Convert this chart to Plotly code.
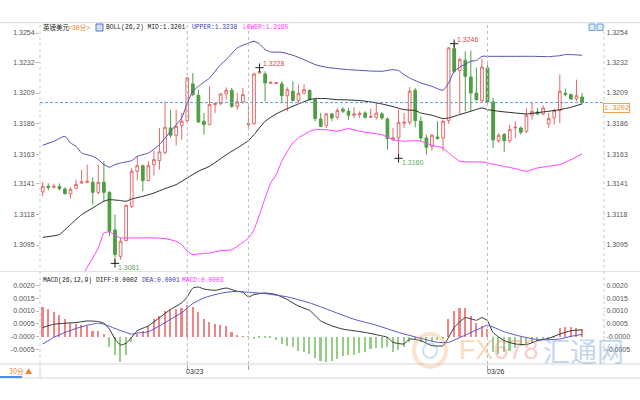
import plotly.graph_objects as go

# ---------------- data ----------------
open_p = [1.31348,1.31390,1.31383,1.31388,1.31370,1.31333,1.31375,1.31415,1.31420,1.31420,
          1.31345,1.31420,1.31345,1.31063,1.30865,1.30983,1.31240,1.31503,1.31545,1.31433,
          1.31553,1.31583,1.31645,1.31828,1.31773,1.31845,1.31883,1.32158,1.32073,1.31878,
          1.31853,1.32003,1.32010,1.32085,1.32110,1.31990,1.32023,1.31853,1.31860,1.32240,
          1.32233,1.32163,1.32160,1.32158,1.32070,1.32103,1.32033,1.32090,1.32110,1.32040,
          1.31895,1.31845,1.31933,1.31908,1.31968,1.31953,1.31923,1.31928,1.31940,1.31908,
          1.31908,1.31933,1.31895,1.31745,1.31753,1.31863,1.31870,1.32110,1.31878,1.31753,
          1.31690,1.31760,1.31753,1.31883,1.32423,1.32258,1.32335,1.32210,1.32090,1.32033,
          1.32278,1.32023,1.31733,1.31778,1.31733,1.31828,1.31828,1.31803,1.31923,1.31948,
          1.31933,1.31858,1.31903,1.31958,1.32088,1.32078,1.32045,1.32060]
high_p = [1.31423,1.31413,1.31408,1.31413,1.31383,1.31383,1.31440,1.31515,1.31553,1.31458,
          1.31553,1.31578,1.31353,1.31178,1.31003,1.31253,1.31528,1.31615,1.31553,1.31578,
          1.31658,1.31828,1.32028,1.31965,1.31965,1.31940,1.32208,1.32240,1.32115,1.31940,
          1.32140,1.32015,1.32090,1.32133,1.32128,1.32090,1.32128,1.31990,1.32240,1.32280,
          1.32253,1.32178,1.32173,1.32178,1.32133,1.32178,1.32153,1.32158,1.32115,1.32053,
          1.31940,1.31940,1.31940,1.31978,1.31983,1.31978,1.31983,1.31953,1.31953,1.31973,
          1.32015,1.31948,1.31908,1.31828,1.31965,1.31940,1.32133,1.32128,1.31915,1.31778,
          1.31783,1.31878,1.31890,1.32433,1.32460,1.32353,1.32403,1.32408,1.32283,1.32348,
          1.32303,1.32053,1.31790,1.31790,1.31853,1.31878,1.31840,1.31978,1.32015,1.31978,
          1.31998,1.31940,1.31973,1.32228,1.32123,1.32085,1.32190,1.32090]
low_p = [1.31315,1.31360,1.31373,1.31358,1.31328,1.31298,1.31370,1.31408,1.31413,1.31253,
         1.31328,1.31278,1.31015,1.30812,1.30840,1.30978,1.31228,1.31433,1.31353,1.31428,
         1.31470,1.31515,1.31628,1.31753,1.31698,1.31740,1.31865,1.32065,1.31865,1.31778,
         1.31848,1.31940,1.31998,1.32040,1.31978,1.31965,1.32008,1.31815,1.31853,1.32233,
         1.32028,1.32158,1.32158,1.32015,1.31953,1.32028,1.32015,1.32078,1.32033,1.31878,
         1.31833,1.31828,1.31878,1.31890,1.31940,1.31890,1.31903,1.31903,1.31898,1.31903,
         1.31890,1.31890,1.31665,1.31728,1.31600,1.31828,1.31853,1.31833,1.31728,1.31628,
         1.31658,1.31740,1.31653,1.31858,1.32240,1.31933,1.31953,1.31953,1.32028,1.32023,
         1.32015,1.31678,1.31715,1.31648,1.31715,1.31753,1.31778,1.31790,1.31890,1.31923,
         1.31923,1.31828,1.31853,1.31865,1.32065,1.32040,1.32028,1.32008]
close_p = [1.31390,1.31380,1.31390,1.31373,1.31335,1.31368,1.31405,1.31423,1.31428,1.31345,
           1.31420,1.31345,1.31053,1.30878,1.30978,1.31248,1.31503,1.31545,1.31433,1.31545,
           1.31590,1.31648,1.31833,1.31773,1.31840,1.31878,1.32203,1.32078,1.31873,1.31853,
           1.32003,1.32010,1.32083,1.32110,1.31990,1.32023,1.32078,1.31860,1.32233,1.32250,
           1.32165,1.32170,1.32168,1.32070,1.32115,1.32033,1.32088,1.32115,1.32040,1.31898,
           1.31840,1.31933,1.31903,1.31958,1.31953,1.31923,1.31933,1.31935,1.31908,1.31913,
           1.31940,1.31903,1.31748,1.31753,1.31870,1.31870,1.32103,1.31883,1.31753,1.31683,
           1.31773,1.31748,1.31878,1.32428,1.32253,1.32340,1.32215,1.32090,1.32040,1.32285,
           1.32023,1.31738,1.31773,1.31733,1.31815,1.31833,1.31795,1.31923,1.31953,1.31933,
           1.31978,1.31898,1.31958,1.32103,1.32078,1.32045,1.32070,1.32018]

upper_idx = [0,2,4,5,6,7,9,10,11,12,13,14,16,17,19,21,23,25,26,27,28,30,32,33,35,37,38,39,40,41,
             43,45,47,49,51,53,55,57,59,61,63,64,65,66,68,70,72,73,74,75,77,78,79,80,85,88,91,93,94,95,97]
upper_val = [1.31698,1.31728,1.31765,1.31715,1.31690,1.31640,1.31615,1.31590,1.31553,1.31533,
             1.31553,1.31565,1.31583,1.31615,1.31640,1.31703,1.31803,1.31903,1.32015,1.32103,
             1.32140,1.32203,1.32303,1.32340,1.32428,1.32465,1.32478,1.32458,1.32415,1.32398,
             1.32395,1.32373,1.32340,1.32303,1.32283,1.32273,1.32265,1.32260,1.32255,1.32253,
             1.32265,1.32258,1.32228,1.32203,1.32165,1.32140,1.32110,1.32165,1.32253,1.32283,
             1.32328,1.32333,1.32365,1.32365,1.32365,1.32365,1.32363,1.32370,1.32378,1.32378,1.32373]
mid_idx = [0,3,4,5,7,9,11,12,14,15,16,18,20,22,24,26,28,30,32,34,35,37,38,40,42,44,46,48,49,51,
           53,55,57,59,61,63,65,67,68,70,72,73,75,77,79,80,82,85,87,90,93,95,97]
mid_val = [1.31008,1.31028,1.31065,1.31103,1.31178,1.31228,1.31278,1.31290,1.31283,1.31278,
           1.31295,1.31315,1.31340,1.31373,1.31403,1.31453,1.31503,1.31540,1.31598,1.31653,
           1.31678,1.31733,1.31778,1.31878,1.31933,1.31973,1.32008,1.32040,1.32048,1.32048,
           1.32040,1.32038,1.32033,1.32023,1.32008,1.31988,1.31965,1.31958,1.31940,1.31923,
           1.31898,1.31903,1.31928,1.31953,1.31978,1.31965,1.31953,1.31940,1.31933,1.31948,
           1.31965,1.31983,1.32008]
lower_idx = [7,8,9,10,11,12,13,14,16,18,20,22,24,25,26,27,28,30,32,34,37,38,39,40,41,42,43,44,45,46,
             47,48,49,51,53,55,57,59,61,63,65,67,68,70,72,73,75,77,79,80,82,85,87,89,91,93,95,97]
lower_val = [1.30703,1.30783,1.30853,1.30928,1.31040,1.31048,1.31023,1.31003,1.31003,1.31003,
             1.31003,1.30998,1.30978,1.30953,1.30903,1.30878,1.30883,1.30890,1.30908,1.30915,
             1.31003,1.31065,1.31178,1.31303,1.31415,1.31478,1.31578,1.31653,1.31715,1.31753,
             1.31778,1.31803,1.31815,1.31815,1.31803,1.31823,1.31803,1.31790,1.31778,1.31740,
             1.31728,1.31733,1.31728,1.31698,1.31678,1.31640,1.31578,1.31573,1.31573,1.31565,
             1.31548,1.31523,1.31503,1.31528,1.31540,1.31553,1.31590,1.31633]

macd_hist = [0.001165,0.001062,0.000973,0.000832,0.000678,0.000550,0.000486,0.000448,0.000422,0.000230,
             0.000230,0.000102,-0.000410,-0.000730,-0.000986,-0.000730,-0.000218,0.000102,0.000230,0.000422,
             0.000678,0.000806,0.000998,0.001088,0.001088,0.001126,0.001216,0.001165,0.000960,0.000678,
             0.000576,0.000486,0.000448,0.000422,0.000192,0.000064,0.000026,-0.000010,-0.000090,-0.000038,
             -0.000026,-0.000064,-0.000128,-0.000282,-0.000371,-0.000410,-0.000538,-0.000602,-0.000666,-0.000832,
             -0.000960,-0.000986,-0.000960,-0.000858,-0.000755,-0.000704,-0.000704,-0.000627,-0.000576,-0.000474,
             -0.000448,-0.000448,-0.000410,-0.000602,-0.000499,-0.000410,-0.000218,-0.000090,-0.000218,-0.000218,
             -0.000154,-0.000115,-0.000090,0.000678,0.000998,0.001126,0.001126,0.000806,0.000550,0.000422,
             0.000294,-0.000602,-0.000666,-0.000602,-0.000538,-0.000448,-0.000346,-0.000282,-0.000218,-0.000154,
             -0.000128,-0.000090,-0.000064,0.000320,0.000397,0.000397,0.000358,0.000294]
diff_idx = [0,2,4,6,8,10,11,12,13,14,15,16,17,19,21,23,25,26,27,28,29,31,33,35,36,37,38,40,42,44,
            46,48,50,52,54,56,58,60,62,63,65,66,68,70,72,73,74,76,78,79,80,81,83,85,87,89,91,93,95,97]
diff_val = [0.000358,0.000486,0.000525,0.000550,0.000614,0.000589,0.000525,0.000294,-0.000090,-0.000320,
            -0.000256,-0.000026,0.000230,0.000422,0.000742,0.001062,0.001318,0.001549,0.001894,0.001933,
            0.001856,0.001805,0.001894,0.001766,0.001728,0.001549,0.001638,0.001702,0.001638,0.001446,
            0.001190,0.001024,0.000614,0.000422,0.000294,0.000230,0.000166,0.000077,-0.000026,-0.000218,
            -0.000282,-0.000090,-0.000154,-0.000346,-0.000346,-0.000026,0.000358,0.000742,0.000640,0.000742,
            0.000614,0.000166,-0.000154,-0.000282,-0.000307,-0.000154,-0.000064,0.000102,0.000230,0.000269]
dea_idx = [0,2,4,6,8,10,11,13,16,17,19,21,23,25,27,29,31,33,35,37,40,44,48,52,56,60,64,68,71,73,
           76,79,80,83,86,89,91,93,95,97]
dea_val = [-0.000282,-0.000026,0.000166,0.000320,0.000448,0.000525,0.000486,0.000320,0.000102,0.000141,
           0.000192,0.000422,0.000678,0.000934,0.001293,0.001510,0.001638,0.001728,0.001766,0.001728,
           0.001677,0.001549,0.001318,0.000998,0.000678,0.000448,0.000166,-0.000064,-0.000218,-0.000218,
           0.000064,0.000358,0.000448,0.000192,0.000013,-0.000115,-0.000115,-0.000090,0.000013,0.000090]

price_ticks = ["1.3254", "1.3232", "1.3209", "1.3186", "1.3163", "1.3141", "1.3118", "1.3095"]
macd_ticks = ["0.0020", "0.0015", "0.0010", "0.0005", "-0.0000", "-0.0005"]
macd_tickvals = [0.0020, 0.0015, 0.0010, 0.0005, 0.0, -0.0005]
date_lines = [26, 37, 80]
date_labels = {26: "03/23", 80: "03/26"}
extreme_high_idx = [39, 74]
extreme_low_idx = [13, 64]

# ---------------- styling ----------------
RED = "#e36a6a"
GREEN = "#4e9e44"
MONO = "Liberation Mono, Noto Sans CJK SC, monospace"
SANS = "Liberation Sans, Arial, sans-serif"
W, H = 640, 400
ML, MR, MT, MB = 40, 37, 23, 36
PW, PH = W - ML - MR, H - MT - MB


def X(px):
    return (px - ML) / PW


def Y(py):
    return (H - MB - py) / PH


n = len(close_p)
xs = list(range(n))

fig = go.Figure()

fig.add_trace(go.Candlestick(
    x=xs, open=open_p, high=high_p, low=low_p, close=close_p,
    increasing=dict(line=dict(color=RED, width=1), fillcolor="white"),
    decreasing=dict(line=dict(color=GREEN, width=1), fillcolor=GREEN),
    whiskerwidth=0, showlegend=False, hoverinfo="skip", xaxis="x", yaxis="y"))

for idx, val, col in [(upper_idx, upper_val, "#4f4fb5"), (mid_idx, mid_val, "#2a2a2a"),
                      (lower_idx, lower_val, "#ff3cff")]:
    fig.add_trace(go.Scatter(x=idx, y=val, mode="lines",
                             line=dict(color=col, width=1, shape="spline", smoothing=0.5),
                             showlegend=False, hoverinfo="skip", xaxis="x", yaxis="y"))

# extreme markers
ex_x = extreme_high_idx + extreme_low_idx
ex_y = [high_p[i] for i in extreme_high_idx] + [low_p[i] for i in extreme_low_idx]
fig.add_trace(go.Scatter(x=ex_x, y=ex_y, mode="markers",
                         marker=dict(symbol="cross-thin", size=6, line=dict(color="#222", width=1)),
                         showlegend=False, hoverinfo="skip", xaxis="x", yaxis="y"))

# dummy for right price axis
fig.add_trace(go.Scatter(x=[0], y=[close_p[0]], mode="markers", marker=dict(opacity=0),
                         showlegend=False, hoverinfo="skip", xaxis="x", yaxis="y3"))

# MACD
fig.add_trace(go.Bar(x=xs, y=macd_hist, width=0.28,
                     marker=dict(color=["#ef8585" if v >= 0 else "#96cd89" for v in macd_hist],
                                 line=dict(width=0)),
                     showlegend=False, hoverinfo="skip", xaxis="x", yaxis="y2"))
fig.add_trace(go.Scatter(x=diff_idx, y=diff_val, mode="lines",
                         line=dict(color="#333333", width=1, shape="spline", smoothing=0.5),
                         showlegend=False, hoverinfo="skip", xaxis="x", yaxis="y2"))
fig.add_trace(go.Scatter(x=dea_idx, y=dea_val, mode="lines",
                         line=dict(color="#5555cc", width=1, shape="spline", smoothing=0.5),
                         showlegend=False, hoverinfo="skip", xaxis="x", yaxis="y2"))
fig.add_trace(go.Scatter(x=[0], y=[0], mode="markers", marker=dict(opacity=0),
                         showlegend=False, hoverinfo="skip", xaxis="x", yaxis="y4"))

price_range = [1.30755, 1.32615]
macd_range = [-0.001062, 0.002518]
main_dom = [Y(271), 1]
macd_dom = [0, Y(272)]

axis_common = dict(showgrid=False, zeroline=False, automargin=False,
                   tickfont=dict(family=SANS, size=7, color="#555555"), showline=False, fixedrange=True)
left_ticks = dict(ticks="outside", ticklen=3, tickcolor="#bbbbbb")
right_ticks = dict(ticks="outside", ticklen=1, tickcolor="#cccccc")

fig.update_layout(
    width=W, height=H, margin=dict(l=ML, r=MR, t=MT, b=MB, autoexpand=False),
    paper_bgcolor="white", plot_bgcolor="white", showlegend=False, bargap=0,
    xaxis=dict(domain=[0, 1], anchor="y2", range=[-0.49, 100.77], showgrid=False, zeroline=False,
               showticklabels=False, ticks="outside", tickvals=date_lines, ticklen=5, tickcolor="#aaaaaa",
               showline=False, rangeslider=dict(visible=False), fixedrange=True, automargin=False),
    yaxis=dict(domain=main_dom, range=price_range, side="left", anchor="x",
               tickvals=[float(t) for t in price_ticks], ticktext=price_ticks, **axis_common, **left_ticks),
    yaxis3=dict(overlaying="y", range=price_range, side="right", anchor="x",
                tickvals=[float(t) for t in price_ticks], ticktext=price_ticks, **axis_common, **right_ticks),
    yaxis2=dict(domain=macd_dom, range=macd_range, side="left", anchor="x",
                tickvals=macd_tickvals, ticktext=macd_ticks, **axis_common, **left_ticks),
    yaxis4=dict(overlaying="y2", range=macd_range, side="right", anchor="x",
                tickvals=macd_tickvals, ticktext=macd_ticks, **axis_common, **right_ticks),
)

shapes = []
# frame lines
for py, col in [(22.7, "#d6d6d6"), (271.5, "#e2e2e2"), (364, "#d6d6d6"), (378, "#d6d6d6")]:
    shapes.append(dict(type="line", xref="paper", yref="paper", x0=X(0), x1=X(640), y0=Y(py), y1=Y(py),
                       line=dict(color=col, width=1)))
shapes.append(dict(type="line", xref="paper", yref="paper", x0=X(40), x1=X(40), y0=Y(364), y1=Y(23),
                   line=dict(color="#cccccc", width=1, dash="dot")))
shapes.append(dict(type="line", xref="paper", yref="paper", x0=X(604), x1=X(604), y0=Y(364), y1=Y(23),
                   line=dict(color="#cccccc", width=1, dash="dot")))
shapes.append(dict(type="line", xref="paper", yref="paper", x0=X(40), x1=X(40), y0=Y(378), y1=Y(364),
                   line=dict(color="#d6d6d6", width=1)))
shapes.append(dict(type="line", xref="paper", yref="paper", x0=X(0), x1=X(22), y0=Y(377), y1=Y(377),
                   line=dict(color="#4a90e2", width=2)))
# date lines
for d in date_lines:
    shapes.append(dict(type="line", xref="x", yref="paper", x0=d, x1=d, y0=0, y1=Y(23),
                       line=dict(color="#bbbbbb", width=1, dash="dot")))
# current price line
shapes.append(dict(type="line", xref="paper", yref="y", x0=0, x1=1, y0=close_p[-1], y1=close_p[-1],
                   line=dict(color="#5b9de0", width=1, dash="3px,2px")))
# legend icon & top-right icons
shapes.append(dict(type="rect", xref="paper", yref="paper", x0=X(96), x1=X(103), y0=Y(31), y1=Y(24),
                   line=dict(color="#5577cc", width=1), fillcolor="#d4def5"))
for x0 in (589, 597):
    shapes.append(dict(type="rect", xref="paper", yref="paper", x0=X(x0), x1=X(x0 + 6), y0=Y(30.5), y1=Y(24),
                       line=dict(color="#6a9fd8", width=1), fillcolor="#dde9f7"))
# watermark logo
shapes.append(dict(type="circle", xref="paper", yref="paper", x0=X(414), x1=X(446), y0=Y(367), y1=Y(334),
                   line=dict(color="#f4a460", width=4), opacity=0.3))
shapes.append(dict(type="circle", xref="paper", yref="paper", x0=X(423), x1=X(437), y0=Y(358), y1=Y(343),
                   line=dict(color="#6a9bd1", width=2), opacity=0.3))
fig.update_layout(shapes=shapes)

ann = []


def txt(px, py, text, color="#222", size=6.3, family=MONO, xanchor="left", **kw):
    ann.append(dict(xref="paper", yref="paper", x=X(px), y=Y(py), text=text, showarrow=False,
                    xanchor=xanchor, yanchor="middle", font=dict(family=family, size=size, color=color), **kw))


# watermark first (drawn underneath other annotations)
txt(457, 350, 'FX<span style="color:#f2877a">678</span>', "#f5a55a", size=27, family=SANS, opacity=0.4)
txt(541, 350, "汇通网", "#5b8fd0", size=27, family="Noto Sans CJK SC", opacity=0.35)

txt(41, 27.3, "英镑美元", "#222", size=6.5)
txt(65.5, 27.3, "&lt;30分&gt;", "#f08020", size=6.5)
txt(103.5, 27.3, "BOLL(26,2) MID:1.3201", "#222")
txt(189.5, 27.3, "UPPER:1.3238", "#3a3ab0")
txt(240.5, 27.3, "LOWER:1.3165", "#ff33ff")

txt(40.5, 280, "MACD(26,12,9) DIFF:0.0002", "#222")
txt(139.5, 280, "DEA:0.0001", "#3a3ab0")
txt(179.5, 280, "MACD:0.0003", "#ff33ff")

txt(7, 371, "30分 ▲", "#f08020", size=7, family="Noto Sans CJK SC, " + SANS)

for d, lab in date_labels.items():
    ann.append(dict(xref="x", yref="paper", x=d, y=Y(371), text=lab, showarrow=False, xanchor="left",
                    yanchor="middle", xshift=-3, font=dict(family=SANS, size=7, color="#333")))

# extreme value labels
for i in extreme_high_idx:
    ann.append(dict(xref="x", yref="y", x=i, y=high_p[i], text=f"{high_p[i]:.4f}", showarrow=False,
                    xanchor="left", yanchor="bottom", xshift=1, yshift=-1,
                    font=dict(family=SANS, size=7, color="#e04848")))
for i in extreme_low_idx:
    ann.append(dict(xref="x", yref="y", x=i, y=low_p[i], text=f"{low_p[i]:.4f}", showarrow=False,
                    xanchor="left", yanchor="top", xshift=1, yshift=1,
                    font=dict(family=SANS, size=7, color="#5aa55a")))

# current price label
ann.append(dict(xref="paper", yref="y", x=X(603), y=close_p[-1], text=f"{close_p[-1]:.4f}", showarrow=False,
                xanchor="left", yanchor="top", bgcolor="white", bordercolor="#f5a04a", borderwidth=1, borderpad=0,
                font=dict(family=MONO, size=7, color="#f08a24")))

fig.update_layout(annotations=ann)

fig.write_html("out.html", config={"displayModeBar": False},
               post_script="document.body.style.margin='0px';")
